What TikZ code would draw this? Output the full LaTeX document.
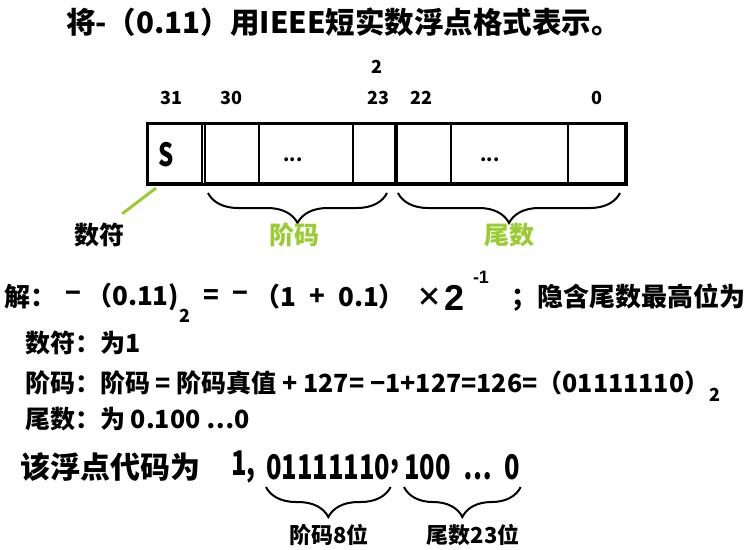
\documentclass[tikz,border=0pt]{standalone}
\usepackage{fontspec}
\setmainfont{Noto Sans CJK SC}
\newfontfamily\arialf{Liberation Sans}
\usepackage{tikz}
\usetikzlibrary{calc,decorations.pathreplacing,positioning}
\definecolor{fieldgreen}{RGB}{153,204,51}
\newcommand\fsz[1]{\fontsize{#1}{#1}\selectfont}
\newcommand\narrow[1]{\scalebox{0.75}[1]{#1}}

\begin{document}
\begin{tikzpicture}[x=1pt,y=-1pt,
	txt/.style={inner sep=0pt,anchor=west,font=\fsz{25}\bfseries},
	eq/.style={inner sep=0pt,font=\fsz{26}\bfseries},
	big/.style={inner sep=0pt,anchor=west,font=\fsz{34}\bfseries},
	small/.style={inner sep=0pt,font=\fsz{18}\bfseries},
	cell/.style={draw,line width=2pt,minimum height=59pt,inner sep=0pt,anchor=west},
	brc/.style={decorate,decoration={brace,mirror,amplitude=#1},line width=2pt}]
			\useasboundingbox[fill=white] (0,0) rectangle (747,549);
			\node[txt,font=\fsz{29.5}\bfseries] (title) at (66,22) {将-（0.11）用IEEE短实数浮点格式表示。};
			\foreach \nm/\x/\y/\lab in {n31/171/98/31,n30/231/98/30,n2/377/67/2,n23/378/98/23,n22/421/98/22,n0/597/98/0}
			\node[small] (\nm) at (\x,\y) {\lab};
			\foreach \nm/\l/\r [evaluate=\r as \w using \r-\l] in {cs/147/201,ca/204/258,cb/258/352,cc/352/394,cd/396/450,ce/450/567,cf/567/624}
			\node[cell,minimum width=\w pt] (\nm) at (\l,153.5) {};
			\draw[line width=3pt] (cs.north west) rectangle (cf.south east);
			\node[inner sep=0pt,font=\fsz{32}\bfseries] (sbit) at (166,155) {\narrow{S}};
			\node[small] (dotsa) at (293,160) {...};
			\node[small] (dotsb) at (490,160) {...};
			\draw[brc=30pt] ([xshift=4pt,yshift=-9pt]ca.south west) -- ([xshift=-9pt,yshift=-9pt]cc.south east);
			\draw[brc=30pt] ([xshift=2pt,yshift=-9pt]cd.south west) -- ([xshift=-6pt,yshift=-9pt]cf.south east);
			\node[txt,anchor=center] (shufu) at (99,235) {数符};
			\node[txt,anchor=center,text=fieldgreen] (jiema) at (294,235) {阶码};
			\node[txt,anchor=center,text=fieldgreen] (weishu) at (509,235) {尾数};
			\draw[fieldgreen,line width=3pt] ([xshift=9pt,yshift=-4pt]cs.south west) -- ([xshift=-2pt,yshift=9pt]shufu.north east);
			\node[eq,anchor=west] (jie) at (4,297) {解：};
			\foreach \nm/\x/\lab in {ma/73/−,eqs/211/=,mb/240/−,plus/317/+,times/429/×}
			\node[eq] (\nm) at (\x,297) {\lab};
			\node[eq,anchor=west] (pa) at (86,297) {（0.11)};
			\node[small] (suba) at (185,316) {2};
			\node[eq,anchor=west] (pb) at (254,297) {（1};
			\node[eq,anchor=west] (pc) at (338,297) {0.1）};
			\node[inner sep=0pt,font=\arialf\fsz{36}\bfseries] (two) at (455,298) {2};
			\node[inner sep=0pt,font=\arialf\fsz{18}\bfseries] (pow) at (481,277) {-1};
			\node[eq,anchor=west] (rest) at (511,298) {；隐含尾数最高位为};
			\node[txt] (sign) at (25,343) {数符：为1};
			\node[txt] (expl) at (25,383) {阶码：阶码 = 阶码真值 + 127= −1+127=126=（01111110）};
			\node[small,anchor=west] (subb) at ([yshift=-12pt]expl.east) {2};
			\node[txt] (mant) at (25,419) {尾数：为 0.100 …0};
			\node[txt,font=\fsz{30}\bfseries] (code) at (20,467) {该浮点代码为};
			\node[big] (one) at (231,467) {\narrow{1,}};
			\node[big] (ebits) at (266,467) {\narrow{01111110}};
			\node[big,right=0pt of ebits] (comma) {\narrow{,}};
			\node[big] (mbits) at (404,467) {\narrow{100\hspace{17pt}…\hspace{17pt}0}};
			\draw[brc=30pt] ([yshift=-7pt]ebits.south west) -- ([yshift=-7pt]ebits.south east);
			\draw[brc=30pt] ([yshift=-7pt]mbits.south west) -- ([yshift=-7pt]mbits.south east);
			\node[inner sep=0pt,font=\fsz{22}\bfseries] (elab) at (329,535) {阶码8位};
			\node[inner sep=0pt,font=\fsz{22}\bfseries] (mlab) at (473,535) {尾数23位};
		\end{tikzpicture}
\end{document}
